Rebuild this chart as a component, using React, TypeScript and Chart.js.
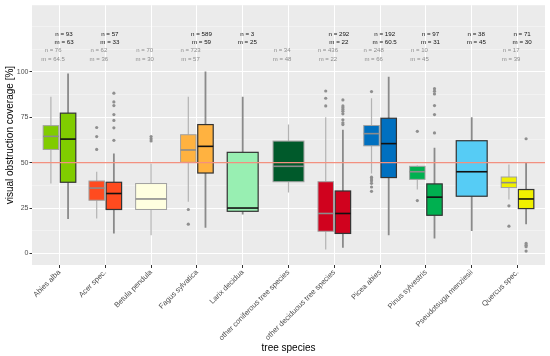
import React, { useEffect, useRef } from 'react';
import { Chart, registerables } from 'chart.js';

Chart.register(...registerables);

const species = [
  'Abies alba',
  'Acer spec.',
  'Betula pendula',
  'Fagus sylvatica',
  'Larix decidua',
  'other coniferous tree species',
  'other deciduous tree species',
  'Picea abies',
  'Pinus sylvestris',
  'Pseudotsuga menziesii',
  'Quercus spec.',
];

const fillColors = [
  '#80CC00',
  '#FF4B1F',
  '#FFFFE0',
  '#FFB240',
  '#98EFB2',
  '#005A2B',
  '#D0021E',
  '#0070C0',
  '#00B050',
  '#56CCF5',
  '#F0F000',
];

// [lower whisker, Q1, median, Q3, upper whisker] — group 1 (grey outline)
const boxStats1: (number[] | null)[] = [
  [38.5, 57.3, 64.5, 70.4, 86.4],
  [19.2, 29.3, 36, 39.9, 45],
  [10, 24.2, 30, 38.5, 49.5],
  [28.4, 50.2, 57, 65.4, 86.4],
  null,
  [33.5, 39.5, 48, 61.9, 71.1],
  [2.2, 12.2, 22, 39.5, 75],
  [44, 59.3, 66, 70.5, 85.5],
  [35.2, 40.8, 45, 48, 48.5],
  null,
  [29.7, 36.3, 39, 42.1, 49],
];

// group 2 (dark outline)
const boxStats2: (number[] | null)[] = [
  [19, 39.2, 63, 77.3, 99.2],
  [11, 24.2, 33, 39.2, 55],
  null,
  [14.1, 44.3, 59, 71, 100.3],
  [21.4, 23.2, 25, 55.7, 86.4],
  null,
  [3.1, 11, 22, 34.4, 68.1],
  [10, 41.8, 60.5, 74.5, 97.4],
  [8.2, 21, 31, 38.3, 58.2],
  [12.3, 31.5, 45, 62.1, 75.1],
  [16.1, 24.7, 30, 35.2, 50],
];

const outliers1: number[][] = [
  [],
  [57.3, 64.4, 69.4],
  [62, 63.2, 64.4],
  [24.2, 16.1],
  [],
  [],
  [81.3, 85.5, 89.5],
  [89.2, 42, 41, 40, 38.6, 36.6, 34.2],
  [67.3, 29.1],
  [],
  [26.2, 15],
];

const outliers2: number[][] = [
  [],
  [62.3, 69.2, 73.3, 76.5, 81.5, 83.5, 88.3],
  [],
  [],
  [],
  [],
  [71, 72, 73.6, 76.9, 78.3, 79.3, 80.3, 81.3, 84.6],
  [],
  [66.4, 76.5, 81.5, 87.9, 89.4, 90.8],
  [],
  [63.2, 5.5, 4.5, 3.7, 1.3],
];

const n1: (number | null)[] = [76, 62, 70, 723, null, 34, 436, 248, 10, null, 17];
const m1: (string | null)[] = ['64.5', '36', '30', '57', null, '48', '22', '66', '45', null, '39'];
const n2: (number | null)[] = [93, 57, null, 589, 3, null, 292, 192, 97, 38, 71];
const m2: (string | null)[] = ['63', '33', null, '59', '25', null, '22', '60.5', '31', '45', '30'];

const referenceValue = 50;
const yLabelTicks = [0, 25, 50, 75, 100];

const FONT = "'Liberation Sans', Arial, sans-serif";

const DODGE = 0.1875;
const HALF_W_PAIR = 0.16875;
const HALF_W_SINGLE = 0.3375;

function boxCenter(i: number, group: 1 | 2) {
  const both = boxStats1[i] && boxStats2[i];
  if (!both) return { c: i, hw: HALF_W_SINGLE };
  return { c: group === 1 ? i - DODGE : i + DODGE, hw: HALF_W_PAIR };
}

const bgPlugin = {
  id: 'panelBg',
  beforeDraw(chart: any) {
    const { ctx, chartArea } = chart;
    ctx.save();
    ctx.fillStyle = '#FFFFFF';
    ctx.fillRect(0, 0, chart.width, chart.height);
    ctx.fillStyle = '#EBEBEB';
    ctx.fillRect(chartArea.left, chartArea.top, chartArea.right - chartArea.left, chartArea.bottom - chartArea.top);
    ctx.restore();
  },
};

const boxPlugin = {
  id: 'boxes',
  beforeDatasetsDraw(chart: any) {
    const { ctx } = chart;
    const xs = chart.scales.x;
    const ys = chart.scales.y;
    ctx.save();
    species.forEach((_, i) => {
      ([[boxStats1, 1], [boxStats2, 2]] as [(number[] | null)[], 1 | 2][]).forEach(([arr, g]) => {
        const s = arr[i];
        if (!s) return;
        const { c, hw } = boxCenter(i, g);
        const xc = xs.getPixelForValue(c);
        const xl = xs.getPixelForValue(c - hw);
        const xr = xs.getPixelForValue(c + hw);
        const [lw, q1, med, q3, uw] = s.map((v) => ys.getPixelForValue(v));
        // whiskers
        ctx.strokeStyle = g === 1 ? '#B3B3B3' : '#8A8A8A';
        ctx.lineWidth = g === 1 ? 1.2 : 1.8;
        ctx.beginPath();
        ctx.moveTo(xc, lw);
        ctx.lineTo(xc, q1);
        ctx.moveTo(xc, q3);
        ctx.lineTo(xc, uw);
        ctx.stroke();
        // box
        ctx.fillStyle = fillColors[i];
        ctx.fillRect(xl, q3, xr - xl, q1 - q3);
        ctx.strokeStyle = g === 1 ? '#A0A0A0' : '#333333';
        ctx.lineWidth = g === 1 ? 1 : 1.2;
        ctx.strokeRect(xl, q3, xr - xl, q1 - q3);
        // median
        ctx.strokeStyle = g === 1 ? '#8C8C8C' : '#111111';
        ctx.lineWidth = 1.6;
        ctx.beginPath();
        ctx.moveTo(xl, med);
        ctx.lineTo(xr, med);
        ctx.stroke();
      });
    });
    ctx.restore();
  },
};

const textPlugin = {
  id: 'nmText',
  afterDatasetsDraw(chart: any) {
    const { ctx } = chart;
    const xs = chart.scales.x;
    const ys = chart.scales.y;
    ctx.save();
    ctx.textAlign = 'center';
    ctx.textBaseline = 'middle';
    species.forEach((_, i) => {
      if (n2[i] !== null) {
        ctx.font = `6.2px ${FONT}`;
        ctx.fillStyle = '#111111';
        const x = xs.getPixelForValue(i + 0.1);
        ctx.fillText(`n = ${n2[i]}`, x, ys.getPixelForValue(121));
        ctx.fillText(`m = ${m2[i]}`, x, ys.getPixelForValue(116.4));
      }
      if (n1[i] !== null) {
        ctx.font = `6px ${FONT}`;
        ctx.fillStyle = '#8C8C8C';
        const x = xs.getPixelForValue(i - 0.14);
        ctx.fillText(`n = ${n1[i]}`, x, ys.getPixelForValue(111.7));
        ctx.fillText(`m = ${m1[i]}`, x, ys.getPixelForValue(107.1));
      }
    });
    ctx.restore();
  },
};

function outlierPoints(list: number[][], g: 1 | 2) {
  const pts: { x: number; y: number }[] = [];
  list.forEach((vals, i) => {
    const { c } = boxCenter(i, g);
    vals.forEach((v) => pts.push({ x: c, y: v }));
  });
  return pts;
}

export default function App() {
  const ref = useRef<HTMLCanvasElement | null>(null);

  useEffect(() => {
    if (!ref.current) return;
    const yTicksAll: number[] = [];
    for (let v = 0; v <= 125; v += 12.5) yTicksAll.push(v);
    const isMajor = (v: number) => yLabelTicks.includes(v);

    const chart = new Chart(ref.current, {
      type: 'scatter',
      data: {
        datasets: [
          {
            type: 'scatter',
            data: outlierPoints(outliers1, 1),
            pointRadius: 1.6,
            pointBackgroundColor: '#8F8F8F',
            pointBorderWidth: 0,
          },
          {
            type: 'scatter',
            data: outlierPoints(outliers2, 2),
            pointRadius: 1.6,
            pointBackgroundColor: '#8F8F8F',
            pointBorderWidth: 0,
          },
          {
            type: 'line',
            data: [
              { x: -0.6, y: referenceValue },
              { x: species.length - 0.4, y: referenceValue },
            ],
            borderColor: '#F3907F',
            borderWidth: 1.2,
            pointRadius: 0,
          } as any,
        ],
      },
      options: {
        animation: false,
        responsive: false,
        maintainAspectRatio: false,
        layout: { padding: { left: 0, right: 5, top: 4, bottom: 0 } },
        plugins: { legend: { display: false }, tooltip: { enabled: false } },
        scales: {
          x: {
            type: 'linear',
            min: -0.6,
            max: species.length - 0.4,
            afterBuildTicks: (scale: any) => {
              scale.ticks = species.map((_, i) => ({ value: i }));
            },
            afterFit: (scale: any) => {
              scale.height = 91;
            },
            ticks: {
              autoSkip: false,
              minRotation: 45,
              maxRotation: 45,
              padding: 0,
              color: '#4D4D4D',
              font: { family: FONT, size: 7.5 },
              callback: (v: any) => species[v as number] ?? '',
            },
            grid: {
              color: '#FFFFFF',
              lineWidth: 1,
              tickColor: '#333333',
              tickLength: 3,
            },
            border: { display: false },
            title: {
              display: true,
              text: 'tree species',
              color: '#000000',
              font: { family: FONT, size: 10 },
              padding: { top: 0, bottom: 2 },
            },
          },
          y: {
            type: 'linear',
            min: -6.4,
            max: 136.8,
            afterBuildTicks: (scale: any) => {
              scale.ticks = yTicksAll.map((v) => ({ value: v }));
            },
            afterFit: (scale: any) => {
              scale.width = 32;
            },
            ticks: {
              padding: 1,
              color: '#4D4D4D',
              font: { family: FONT, size: 7 },
              callback: (v: any) => (isMajor(v as number) ? String(v) : ''),
            },
            grid: {
              color: (c: any) => (isMajor(c.tick?.value) ? '#FFFFFF' : 'rgba(255,255,255,0.75)'),
              lineWidth: (c: any) => (isMajor(c.tick?.value) ? 1 : 0.5),
              tickColor: (c: any) => (isMajor(c.tick?.value) ? '#333333' : 'rgba(0,0,0,0)'),
              tickLength: 2.5,
            },
            border: { display: false },
            title: {
              display: true,
              text: 'visual obstruction coverage [%]',
              color: '#000000',
              font: { family: FONT, size: 10 },
              padding: { top: 4.5, bottom: 0 },
            },
          },
        },
      } as any,
      plugins: [bgPlugin, boxPlugin, textPlugin],
    });
    return () => chart.destroy();
  }, []);

  return (
    <div style={{ position: 'fixed', left: 0, top: 0, width: 550, height: 356, background: '#fff' }}>
      <canvas ref={ref} width={550} height={356} style={{ width: 550, height: 356, display: 'block' }} />
    </div>
  );
}
